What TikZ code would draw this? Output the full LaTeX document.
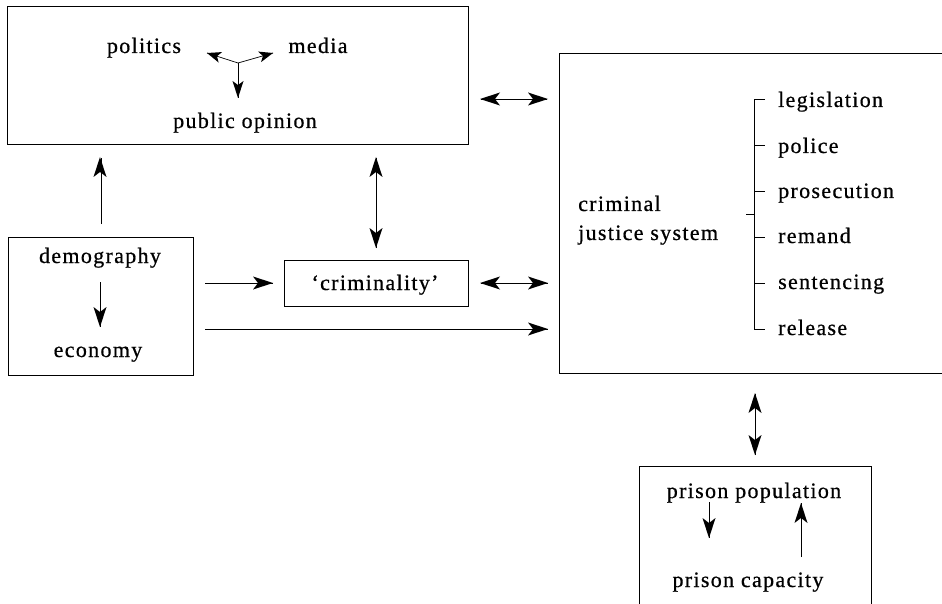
\documentclass[tikz,border=0pt]{standalone}
\usepackage{fontspec}
\setmainfont{Liberation Serif}[LetterSpace=6, FakeBold=0.6]
\begin{document}
\begin{tikzpicture}[x=1pt,y=-1pt,
  box/.style={draw, line width=1pt, inner sep=0pt, anchor=north west},
  lbl/.style={inner sep=0pt, font=\fontsize{22}{26}\selectfont},
  shaft/.style={line width=0.7pt},
  brk/.style={line width=0.7pt},
  bighead/.pic={\fill (0,0) -- (-20,6.5) -- (-15,0) -- (-20,-6.5) -- cycle;},
  smallhead/.pic={\fill (0,0) -- (-14,5.5) -- (-10.5,0) -- (-14,-5.5) -- cycle;},
  midhead/.pic={\fill (0,0) -- (-17,5.5) -- (-13,0) -- (-17,-5.5) -- cycle;}
]
\useasboundingbox (0,0) rectangle (942,604);
\clip (0,0) rectangle (942,604);

% boxes
\node[box, minimum width=461pt, minimum height=138pt] (top) at (7,6) {};
\node[box, minimum width=185pt, minimum height=138pt] (left) at (8,237) {};
\node[box, minimum width=184pt, minimum height=46pt] (crim) at (284,260) {};
\node[box, minimum width=400pt, minimum height=320pt] (big) at (559,53) {};
\node[box, minimum width=232pt, minimum height=160pt] (prison) at (639,466) {};

% texts
\node[lbl, anchor=base] (pol) at (144,53) {politics};
\node[lbl, anchor=base] (med) at (318,53) {media};
\node[lbl, anchor=base] (pub) at (245,128) {public opinion};
\node[lbl, anchor=base] (dem) at (100,263) {demography};
\node[lbl, anchor=base] (eco) at (98,357) {economy};
\node[lbl, anchor=base] (crt) at (375,290) {‘criminality’};
\node[lbl, anchor=base west] (cj1) at (578,211) {criminal};
\node[lbl, anchor=base west] (cj2) at (578,240) {justice system};
\node[lbl, anchor=base west] (leg) at (778,107) {legislation};
\node[lbl, anchor=base west] (pol2) at (778,153) {police};
\node[lbl, anchor=base west] (pro) at (778,198) {prosecution};
\node[lbl, anchor=base west] (rem) at (778,243) {remand};
\node[lbl, anchor=base west] (sen) at (778,289) {sentencing};
\node[lbl, anchor=base west] (rel) at (778,335) {release};
\node[lbl, anchor=base] (pp) at (754,498) {prison population};
\node[lbl, anchor=base] (pc) at (748,587) {prison capacity};

% helper coordinates
\coordinate (h99) at (0,99);
\coordinate (h329) at (0,329);

% connector shafts between boxes
\draw[shaft, shorten <=12pt, shorten >=12pt] (top.east |- h99) -- (big.west |- h99);
\draw[shaft, shorten <=12pt, shorten >=11pt] (crim.east) -- (big.west |- crim.east);
\draw[shaft, shorten <=11pt, shorten >=11pt] (left.east |- crim.west) -- (crim.west);
\draw[shaft, shorten <=11pt, shorten >=11pt] (left.east |- h329) -- (big.west |- h329);
\draw[shaft, shorten <=13pt, shorten >=13pt] (left.north) -- (top.south -| left.north);
\draw[shaft, shorten <=12pt, shorten >=13pt] (crim.north) -- (top.south -| crim.north);
\draw[shaft, shorten <=11pt, shorten >=20pt] (prison.north) -- (big.south -| prison.north);

% arrow heads of those connectors
\pic[rotate=180] at (480,99) {bighead};
\pic at (548,99) {bighead};
\pic[rotate=180] at (480,283) {bighead};
\pic at (548,283) {bighead};
\pic at (273,283) {bighead};
\pic at (548,329) {bighead};
\pic[rotate=90] at (100,157) {bighead};
\pic[rotate=90] at (376,157) {bighead};
\pic[rotate=-90] at (376,248) {bighead};
\pic[rotate=90] at (755,393) {bighead};
\pic[rotate=-90] at (755,455) {bighead};

% inside top box: three-way arrows
\coordinate (tri) at (238,63);
\coordinate (triL) at (207,53);
\coordinate (triR) at (273,53);
\coordinate (triD) at (238,98);
\draw[shaft] (tri) -- (triL);
\draw[shaft] (tri) -- (triR);
\draw[shaft] (tri) -- (triD);
\pic[rotate=162] at (triL) {smallhead};
\pic[rotate=16] at (triR) {smallhead};
\pic[rotate=-90] at (triD) {midhead};

% demography -> economy
\coordinate (de1) at (100,282);
\coordinate (de2) at (100,327);
\draw[shaft] (de1) -- (de2);
\pic[rotate=-90] at (de2) {bighead};

% prison internal arrows
\coordinate (pd1) at (709,502);
\coordinate (pd2) at (709,538);
\coordinate (pu1) at (801,557);
\coordinate (pu2) at (801,503);
\draw[shaft] (pd1) -- (pd2);
\draw[shaft] (pu1) -- (pu2);
\pic[rotate=-90] at (pd2) {bighead};
\pic[rotate=90] at (pu2) {bighead};

% bracket
\draw[brk] (765,99) -- (754,99) -- (754,329) -- (765,329);
\foreach \yy in {145,191,237,283} \draw[brk] (754,\yy) -- (765,\yy);
\draw[brk] (746,214) -- (754,214);
\end{tikzpicture}
\end{document}
